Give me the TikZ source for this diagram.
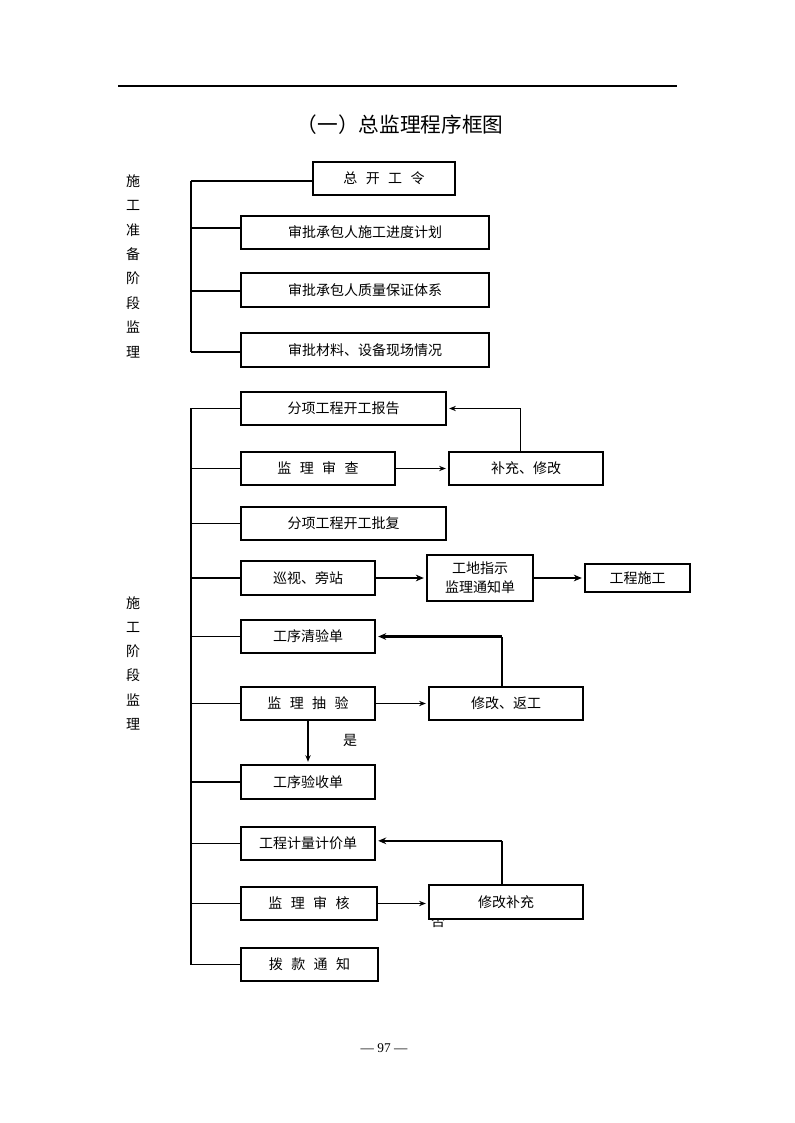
\documentclass[tikz,border=0pt]{standalone}
\usepackage{fontspec}
\setmainfont{Liberation Serif}
\newfontfamily\cjk{Noto Sans CJK SC}
\usetikzlibrary{arrows.meta}
\begin{document}
\begin{tikzpicture}[x=0.75pt,y=-0.75pt,
  bx/.style 2 args={draw,line width=0.8pt,minimum width=#1*0.75pt,minimum height=#2*0.75pt,inner sep=0pt,font=\cjk\fontsize{10.5}{14}\selectfont,fill=white,align=center},
  ln/.style={line width=0.8pt},
  arr/.style={line width=0.8pt,-{Stealth[length=5pt,width=4pt]},shorten >=2pt},
  tarr/.style={line width=1.6pt,-{Stealth[length=6pt,width=5pt]},shorten >=2pt},
  vlab/.style={font=\cjk\fontsize{10.5}{12}\selectfont,inner sep=0pt},
  lab/.style={font=\cjk\fontsize{10.5}{12}\selectfont,inner sep=0pt}]
\useasboundingbox (0,0) rectangle (794,1123);
% header line and title
\coordinate (hl) at (118,86); \coordinate (hr) at (677,86);
\draw[line width=0.8pt] (hl) -- (hr);
\node[font=\cjk\fontsize{15.5}{18}\selectfont] (title) at (400,125) {（一）总监理程序框图};
% left labels
\foreach \c [count=\i] in {施,工,准,备,阶,段,监,理}
  \node[vlab] (la\i) at (133,{181+24.4*(\i-1)}) {\c};
\foreach \c [count=\i] in {施,工,阶,段,监,理}
  \node[vlab] (lb\i) at (133,{603+24.2*(\i-1)}) {\c};
% group 1
\coordinate (s1top) at (191,181); \coordinate (s1bot) at (191,352);
\draw[ln] (s1top) -- (s1bot);
\node[bx={142}{33}] (b0) at (384,178.5) {总\hspace{0.6em}开\hspace{0.6em}工\hspace{0.6em}令};
\node[bx={248}{33}] (b1) at (365,232.5) {审批承包人施工进度计划};
\node[bx={248}{34}] (b2) at (365,290) {审批承包人质量保证体系};
\node[bx={248}{34}] (b3) at (365,350) {审批材料、设备现场情况};
\draw[ln] (s1top) -- (s1top -| b0.west);
\foreach \b/\y in {b1/228,b2/291,b3/352}
  \draw[ln] (191,\y) -- (\b.west |- 191,\y);
% group 2
\coordinate (s2top) at (191,408); \coordinate (s2bot) at (191,965);
\draw[ln] (s2top) -- (s2bot);
% label partly hidden by the box drawn after it
\node[lab] (no) at (438,922) {否};
\node[bx={205}{33}] (c1) at (343.5,408.5) {分项工程开工报告};
\node[bx={154}{33}] (c2) at (318,468.5) {监\hspace{0.6em}理\hspace{0.6em}审\hspace{0.6em}查};
\node[bx={154}{33}] (c2r) at (526,468.5) {补充、修改};
\node[bx={205}{33}] (c3) at (343.5,523.5) {分项工程开工批复};
\node[bx={134}{34}] (c4) at (308,578) {巡视、旁站};
\node[bx={106}{46}] (c4m) at (480,578) {工地指示\\监理通知单};
\node[bx={105}{28}] (c4r) at (637.5,578) {工程施工};
\node[bx={134}{33}] (c5) at (308,636.5) {工序清验单};
\node[bx={134}{33}] (c6) at (308,703.5) {监\hspace{0.6em}理\hspace{0.6em}抽\hspace{0.6em}验};
\node[bx={154}{33}] (c6r) at (506,703.5) {修改、返工};
\node[bx={134}{34}] (c7) at (308,782) {工序验收单};
\node[bx={134}{33}] (c8) at (308,843.5) {工程计量计价单};
\node[bx={136}{33}] (c9) at (309,903.5) {监\hspace{0.6em}理\hspace{0.6em}审\hspace{0.6em}核};
\node[bx={154}{34}] (c9r) at (506,902) {修改补充};
\node[bx={137}{33}] (c10) at (309.5,964.5) {拨\hspace{0.6em}款\hspace{0.6em}通\hspace{0.6em}知};
\foreach \b in {c1,c2,c3,c4,c5,c6,c7,c8,c9,c10}
  \draw[ln] (\b.west -| s2top) -- (\b.west);
% connectors
\draw[arr] (c2.east) -- (c2r.west);
\draw[arr] ([xshift=-4pt]c2r.north) |- (c1.east);
\draw[tarr] (c4.east) -- (c4m.west);
\draw[tarr] (c4m.east) -- (c4r.west);
\draw[arr] (c6.east) -- (c6r.west);
\draw[line width=0.8pt] ([xshift=-3pt]c6r.north) -- ([xshift=-3pt]c6r.north |- c5.east);
\draw[tarr] ([xshift=-3pt]c6r.north |- c5.east) -- (c5.east);
\draw[arr] (c6.south) -- (c7.north);
\node[lab] (yes) at (350,740) {是};
\draw[arr] (c9.east) -- (c9.east -| c9r.west);
\draw[line width=0.8pt] ([xshift=-3pt]c9r.north) -- ([xshift=-3pt,yshift=2pt]c9r.north |- c8.east);
\draw[tarr] ([xshift=-3pt,yshift=2pt]c9r.north |- c8.east) -- ([yshift=2pt]c8.east);
% page number
\node[font=\fontsize{10}{12}\selectfont] (pg) at (384,1048) {— 97 —};
\end{tikzpicture}
\end{document}
